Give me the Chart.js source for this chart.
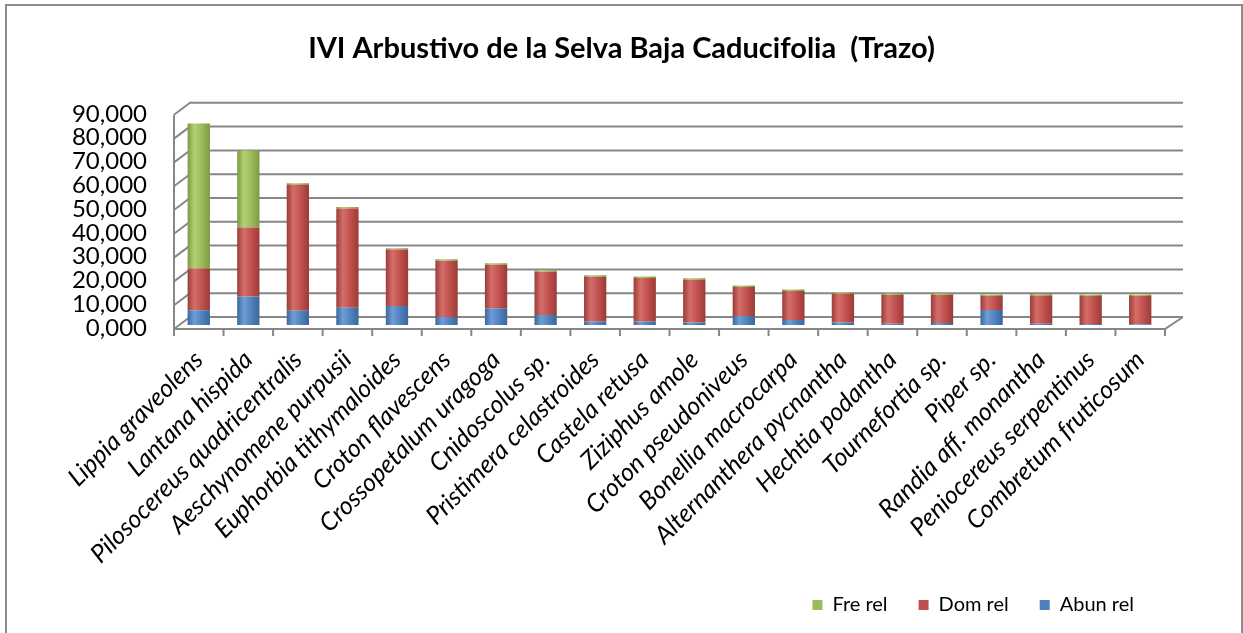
<!DOCTYPE html>
<html>
<head>
<meta charset="utf-8">
<script src="https://cdn.jsdelivr.net/npm/chart.js@4.4.1/dist/chart.umd.min.js"></script>
<style>
html,body{margin:0;padding:0;background:#fff;}
#wrap{width:1243px;height:633px;position:relative;}
</style>
</head>
<body>
<div id="wrap"><canvas id="c" width="1243" height="633"></canvas></div>
<script>
const categories = ["Lippia graveolens","Lantana hispida","Pilosocereus quadricentralis","Aeschynomene purpusii","Euphorbia tithymaloides","Croton flavescens","Crossopetalum uragoga","Cnidoscolus sp.","Pristimera celastroides","Castela retusa","Ziziphus amole","Croton pseudoniveus","Bonellia macrocarpa","Alternanthera pycnantha","Hechtia podantha","Tournefortia sp.","Piper sp.","Randia aff. monantha","Peniocereus serpentinus","Combretum fruticosum"];
const abunRel = [6.2, 12.0, 6.0, 7.2, 8.0, 3.4, 7.0, 4.2, 1.5, 1.5, 1.0, 3.8, 2.1, 1.0, 0.5, 0.8, 6.3, 0.5, 0.4, 0.3];
const domRel  = [17.5, 29.0, 53.0, 41.8, 23.7, 23.6, 18.3, 18.2, 18.8, 18.3, 18.0, 12.2, 12.2, 12.1, 12.1, 11.8, 5.9, 11.9, 11.8, 11.9];
const freRel  = [61.0, 32.3, 0.6, 0.6, 0.6, 0.6, 0.6, 0.6, 0.6, 0.6, 0.6, 0.6, 0.6, 0.6, 0.6, 0.6, 0.6, 0.6, 0.6, 0.6];
const yTickLabels = ["0,000","10,000","20,000","30,000","40,000","50,000","60,000","70,000","80,000","90,000"];

const FONT = "Lato, 'Open Sans', sans-serif";
const GRID = "#878787";
const COLORS = {
  abun: { base: "#4F81BD", light: "#6f9dd6", dark: "#3b6699" },
  dom:  { base: "#C0504D", light: "#d46e6a", dark: "#9b3b38" },
  fre:  { base: "#9BBB59", light: "#b3d174", dark: "#7b9a40" }
};
const BAR_PCT = 0.45;

function cylFill(pal) {
  return (ctx) => {
    const chart = ctx.chart;
    const xs = chart.scales && chart.scales.x;
    if (!xs || ctx.dataIndex === undefined || !chart.chartArea) return pal.base;
    const cx = xs.getPixelForValue(ctx.dataIndex);
    const w = (xs.width / categories.length) * BAR_PCT;
    const g = chart.ctx.createLinearGradient(cx - w / 2, 0, cx + w / 2, 0);
    g.addColorStop(0, pal.dark);
    g.addColorStop(0.3, pal.light);
    g.addColorStop(0.65, pal.base);
    g.addColorStop(1, pal.dark);
    return g;
  };
}

// offsets for pseudo-3D walls
const DX = 16, BACK = -8, FRONT = 4;

const walls = {
  id: "walls",
  beforeDatasetsDraw(chart) {
    const { ctx, scales: { x, y } } = chart;
    const L = x.left, R = x.right;
    ctx.save();
    ctx.strokeStyle = GRID;
    ctx.lineWidth = 2;
    ctx.beginPath();
    y.ticks.forEach(t => {
      const yp = y.getPixelForValue(t.value);
      ctx.moveTo(L, yp + FRONT);
      ctx.lineTo(L + DX, yp + BACK);
      ctx.lineTo(R + DX + 2, yp + BACK);
    });
    ctx.moveTo(L, y.getPixelForValue(y.max) + FRONT);
    ctx.lineTo(L, y.getPixelForValue(0) + FRONT);
    const y0 = y.getPixelForValue(0);
    ctx.moveTo(L, y0 + FRONT);
    ctx.lineTo(R, y0 + FRONT);
    ctx.lineTo(R + DX + 2, y0 + BACK);
    const n = categories.length;
    for (let i = 0; i <= n; i++) {
      const xp = L + (R - L) * i / n;
      ctx.moveTo(xp, y0 + FRONT);
      ctx.lineTo(xp, y0 + FRONT + 7);
    }
    ctx.stroke();
    ctx.restore();
  },
  afterDraw(chart) {
    const ctx = chart.ctx;
    ctx.save();
    ctx.strokeStyle = "#8c8c8c";
    ctx.lineWidth = 2;
    ctx.strokeRect(6, 5, 1236, 650);
    ctx.restore();
  }
};

new Chart(document.getElementById("c"), {
  type: "bar",
  data: {
    labels: categories,
    datasets: [
      { label: "Abun rel", data: abunRel, backgroundColor: cylFill(COLORS.abun), solid: COLORS.abun.base },
      { label: "Dom rel",  data: domRel,  backgroundColor: cylFill(COLORS.dom),  solid: COLORS.dom.base },
      { label: "Fre rel",  data: freRel,  backgroundColor: cylFill(COLORS.fre),  solid: COLORS.fre.base }
    ]
  },
  options: {
    responsive: false,
    animation: false,
    layout: { padding: { left: 20, right: 20, top: 10, bottom: 8 } },
    datasets: { bar: { barPercentage: BAR_PCT, categoryPercentage: 1.0 } },
    plugins: {
      title: {
        display: true,
        text: "IVI Arbustivo de la Selva Baja Caducifolia  (Trazo)",
        color: "#000",
        font: { family: FONT, size: 29, weight: "bold" },
        padding: { top: 21, bottom: 45 }
      },
      legend: {
        position: "bottom",
        align: "end",
        fullSize: false,
        reverse: true,
        labels: {
          color: "#000",
          font: { family: FONT, size: 20 },
          boxWidth: 10, boxHeight: 10,
          padding: 31,
          generateLabels(chart) {
            return chart.data.datasets.map((d, i) => ({
              text: d.label, fillStyle: d.solid, strokeStyle: d.solid,
              lineWidth: 0, hidden: false, datasetIndex: i, fontColor: "#000"
            }));
          }
        }
      },
      tooltip: { enabled: false }
    },
    scales: {
      x: {
        stacked: true,
        grid: { display: false },
        border: { display: false },
        ticks: {
          color: "#000",
          font: { family: FONT, size: 25, style: "italic" },
          minRotation: 45, maxRotation: 45, autoSkip: false, padding: 12
        },
        afterFit(scale) { scale.height = 239; }
      },
      y: {
        stacked: true,
        min: 0, max: 90,
        ticks: {
          stepSize: 10,
          autoSkip: false,
          color: "#000",
          font: { family: FONT, size: 24 },
          padding: 19,
          labelOffset: 3,
          callback: (v, i) => yTickLabels[i]
        },
        grid: { display: false },
        border: { display: false },
        afterFit(scale) { scale.width = 154; }
      },
      yRight: {
        position: "right",
        display: true,
        min: 0, max: 90,
        ticks: { display: false },
        grid: { display: false, drawOnChartArea: false },
        border: { display: false },
        afterFit(scale) { scale.width = 58; }
      }
    }
  },
  plugins: [walls]
});
</script>
</body>
</html>
